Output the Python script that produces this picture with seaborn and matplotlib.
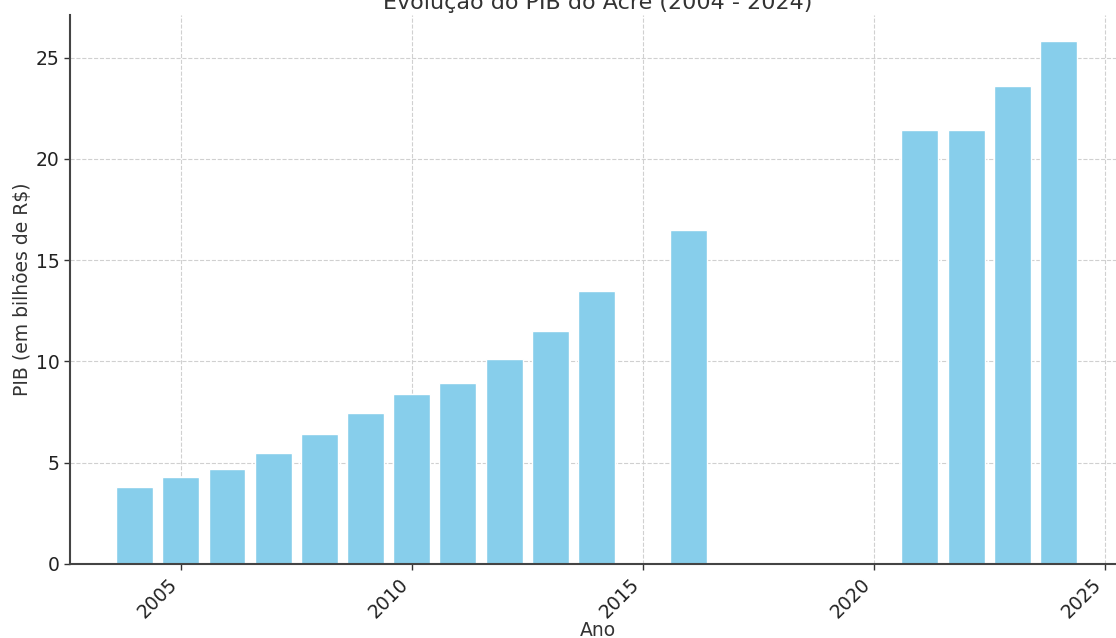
import matplotlib
matplotlib.use('Agg')
import matplotlib.pyplot as plt
import seaborn as sns
import pandas as pd

# Dados do PIB do Acre (em bilhões de R$)
anos = [2004, 2005, 2006, 2007, 2008, 2009, 2010, 2011, 2012, 2013, 2014, 2016, 2021, 2022, 2023, 2024]
pib = [3.80, 4.31, 4.68, 5.47, 6.44, 7.43, 8.37, 8.94, 10.14, 11.48, 13.47, 16.50, 21.43, 21.43, 23.58, 25.82]

df = pd.DataFrame({'Ano': anos, 'PIB': pib})

sns.set_style('whitegrid', {'grid.linestyle': '--', 'grid.color': '#d0d0d0',
                            'axes.edgecolor': '#444444', 'xtick.bottom': True, 'ytick.left': True})
plt.rcParams['font.family'] = ['DejaVu Sans']

fig = plt.figure(figsize=(11.16, 6.38), dpi=100)
ax = fig.add_axes([0.0627, 0.116, 0.9453, 0.8605])

sns.barplot(data=df, x='Ano', y='PIB', native_scale=True, color='#87CEEB',
            saturation=1, width=0.8, ax=ax)

ax.set_xlim(2002.6, 2025.44)
ax.set_ylim(0, 27.1)
ax.set_xticks([2005, 2010, 2015, 2020, 2025])
ax.set_yticks([0, 5, 10, 15, 20, 25])
ax.tick_params(axis='both', labelsize=13.5, colors='#333333', length=4, width=1)
ax.tick_params(axis='both', labelcolor='#222222')
plt.setp(ax.get_xticklabels(), rotation=45, ha='right')

ax.grid(True, linestyle='--', color='#d0d0d0', linewidth=0.8)
ax.set_axisbelow(True)
for s in ['top', 'right']:
    ax.spines[s].set_visible(False)
for s in ['left', 'bottom']:
    ax.spines[s].set_linewidth(1.5)
    ax.spines[s].set_color('#444444')

ax.set_title('Evolução do PIB do Acre (2004 - 2024)', fontsize=16, color='#333333', pad=4)
ax.set_xlabel('Ano', fontsize=13.5, color='#333333', labelpad=0)
ax.set_ylabel('PIB (em bilhões de R$)', fontsize=13.5, color='#333333', labelpad=3)

fig.savefig('out.png', dpi=100)
